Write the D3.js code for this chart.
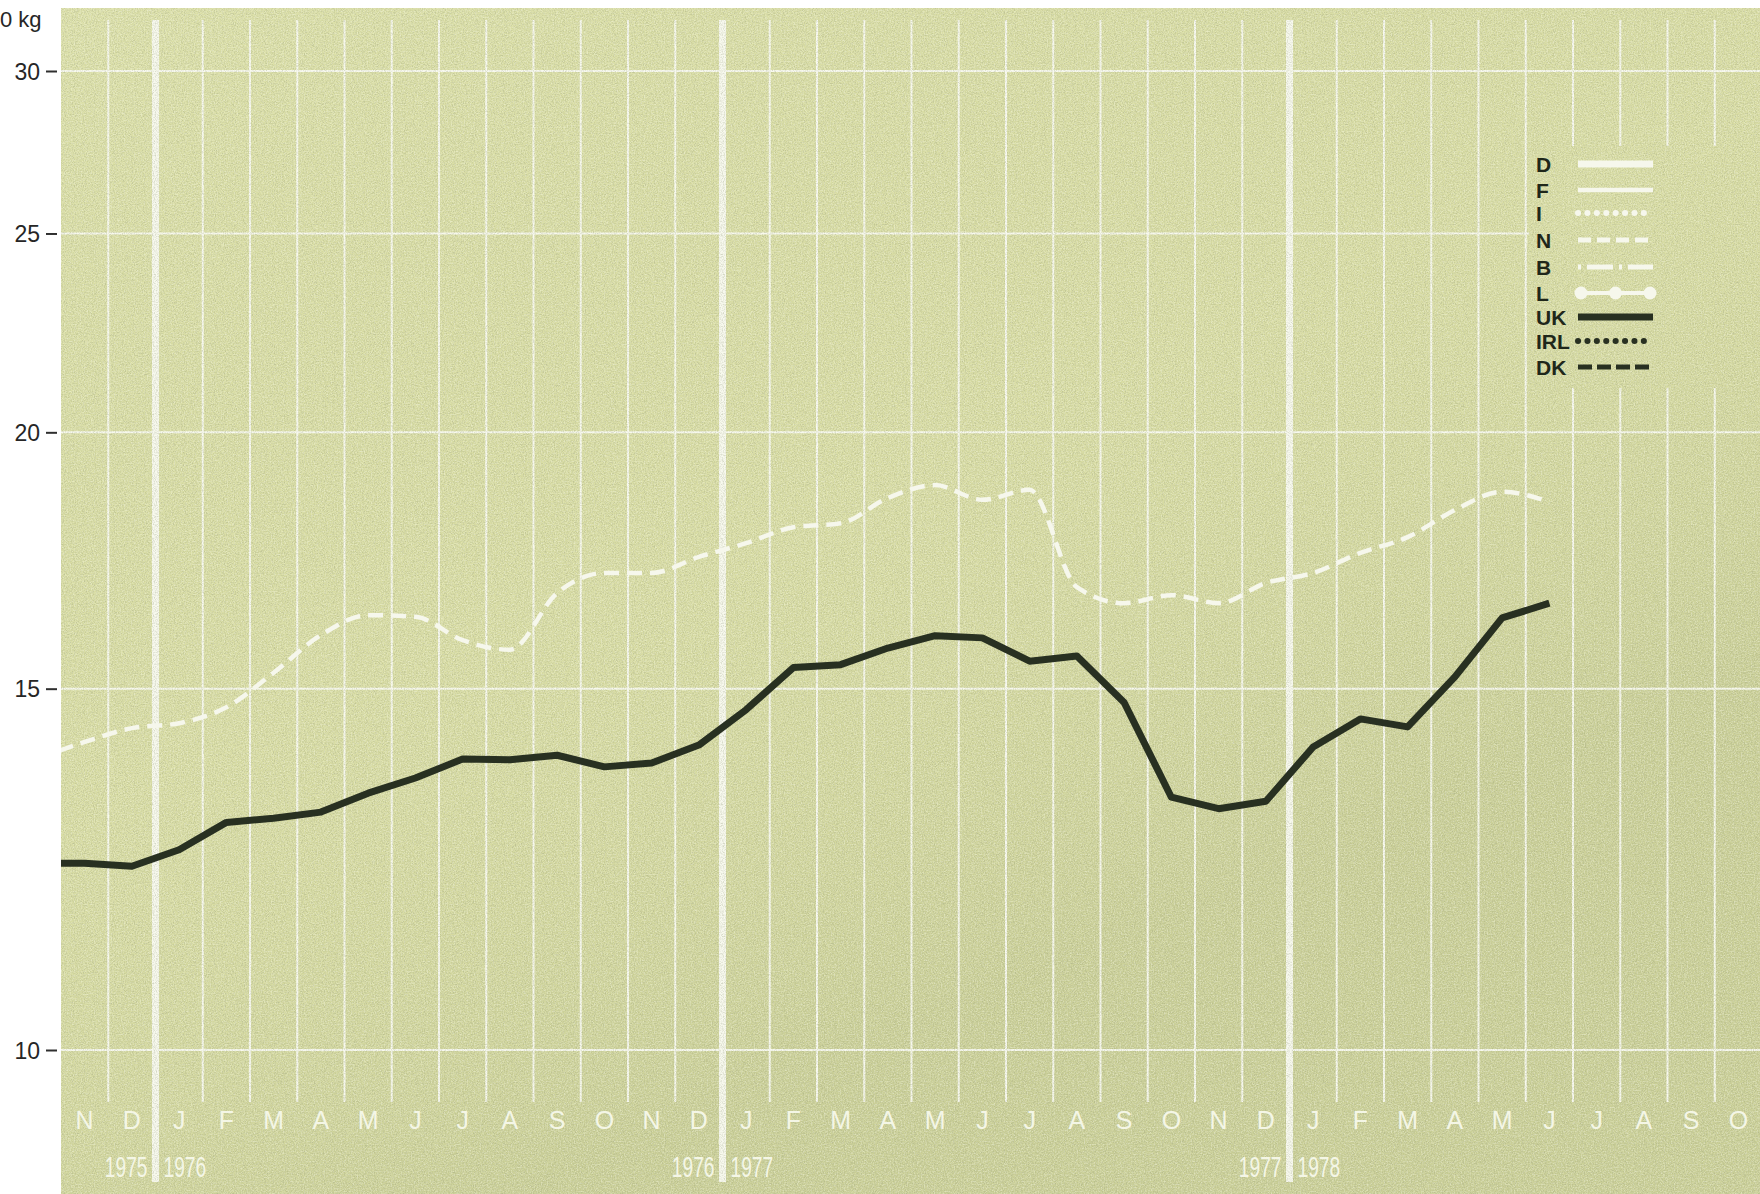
<!DOCTYPE html>
<html>
<head>
<meta charset="utf-8">
<script src="https://cdn.jsdelivr.net/npm/d3@7"></script>
<style>
  html, body { margin: 0; padding: 0; background: #ffffff; }
  svg { display: block; }
</style>
</head>
<body>
<script>
// ---------- DATA ----------
// visible month columns, Nov 1975 .. Oct 1978
const monthLabels = ["N","D","J","F","M","A","M","J","J","A","S","O","N","D",
  "J","F","M","A","M","J","J","A","S","O","N","D",
  "J","F","M","A","M","J","J","A","S","O"];
const years = ["1975","1976","1977","1978"];
const yearBreaks = [2, 14, 26];           // month index where a new year starts
const yTicks = [10, 15, 20, 25, 30];
const unitLabel = "0 kg";

// series values, Oct 1975 (index -1, just off the left edge) .. Jun 1978 (index 31)
const seriesStart = -1;
const ukValues = [12.33, 12.33, 12.29, 12.52, 12.91, 12.97, 13.06, 13.34, 13.57, 13.86, 13.85,
  13.92, 13.74, 13.80, 14.08, 14.65, 15.36, 15.41, 15.70, 15.92, 15.88, 15.47, 15.56,
  14.77, 13.28, 13.11, 13.22, 14.05, 14.50, 14.37, 15.20, 16.24, 16.51];
const nValues = [13.86, 14.13, 14.35, 14.43, 14.69, 15.27, 15.93, 16.29, 16.26, 15.84, 15.67,
  16.70, 17.08, 17.08, 17.39, 17.66, 17.98, 18.06, 18.58, 18.85, 18.54, 18.75, 16.81,
  16.51, 16.66, 16.51, 16.89, 17.08, 17.47, 17.78, 18.33, 18.71, 18.50];

const legendLabels = ["D","F","I","N","B","L","UK","IRL","DK"];

// ---------- LAYOUT ----------
const W = 1760, H = 1194;
const plot = { left: 61, top: 8, right: 1760, bottom: 1194 };
const FONT = "'Liberation Sans', Arial, Helvetica, sans-serif";
const BG = "#d9dda4";
const GRID = "#f7f8ee";
const DARK = "#283021";

const x = d3.scaleLinear().domain([0, 36]).range([61, 1762]);
const xc = i => x(i + 0.5);
const y = d3.scaleLog().domain([10, 30]).range([1050, 71]);

const svg = d3.select("body").append("svg")
  .attr("width", W).attr("height", H)
  .attr("viewBox", `0 0 ${W} ${H}`);

const defs = svg.append("defs");
defs.append("clipPath").attr("id", "plotClip")
  .append("rect").attr("x", plot.left).attr("y", plot.top)
  .attr("width", plot.right - plot.left).attr("height", plot.bottom - plot.top);

const fDark = defs.append("filter").attr("id", "grainDark")
  .attr("x", 0).attr("y", 0).attr("width", "100%").attr("height", "100%");
fDark.append("feTurbulence").attr("type", "fractalNoise").attr("baseFrequency", 0.9)
  .attr("numOctaves", 2).attr("seed", 4);
fDark.append("feColorMatrix").attr("type", "matrix")
  .attr("values", "0 0 0 0 0.30  0 0 0 0 0.33  0 0 0 0 0.20  2.6 0 0 0 -1.05");

const fLight = defs.append("filter").attr("id", "grainLight")
  .attr("x", 0).attr("y", 0).attr("width", "100%").attr("height", "100%");
fLight.append("feTurbulence").attr("type", "fractalNoise").attr("baseFrequency", 0.7)
  .attr("numOctaves", 2).attr("seed", 11);
fLight.append("feColorMatrix").attr("type", "matrix")
  .attr("values", "0 0 0 0 0.97  0 0 0 0 0.99  0 0 0 0 0.85  2.6 0 0 0 -1.1");

const grad = defs.append("linearGradient").attr("id", "shade")
  .attr("gradientUnits", "userSpaceOnUse")
  .attr("x1", 0).attr("y1", 0).attr("x2", 500).attr("y2", 1194);
grad.append("stop").attr("offset", "0%").attr("stop-color", "#eef2c2").attr("stop-opacity", 0.2);
grad.append("stop").attr("offset", "60%").attr("stop-color", "#c9ce94").attr("stop-opacity", 0.0);
grad.append("stop").attr("offset", "100%").attr("stop-color", "#aab17a").attr("stop-opacity", 0.3);

function bgRect(g, x0, y0, w, h) {
  g.append("rect").attr("x", x0).attr("y", y0).attr("width", w).attr("height", h).attr("fill", BG);
  g.append("rect").attr("x", x0).attr("y", y0).attr("width", w).attr("height", h).attr("fill", "url(#shade)");
}

// ---------- BACKGROUND ----------
bgRect(svg, plot.left, plot.top, plot.right - plot.left, plot.bottom - plot.top);

// ---------- GRID ----------
const grid = svg.append("g").attr("clip-path", "url(#plotClip)");
grid.selectAll("line.h").data(yTicks).join("line").attr("class", "h")
  .attr("x1", plot.left).attr("x2", plot.right)
  .attr("y1", d => y(d)).attr("y2", d => y(d))
  .attr("stroke", GRID).attr("stroke-width", 2);
const bounds = d3.range(1, 36).filter(b => !yearBreaks.includes(b));
grid.selectAll("line.v").data(bounds).join("line").attr("class", "v")
  .attr("x1", d => x(d)).attr("x2", d => x(d))
  .attr("y1", 20).attr("y2", 1102)
  .attr("stroke", GRID).attr("stroke-width", 2);
grid.selectAll("line.yr").data(yearBreaks).join("line").attr("class", "yr")
  .attr("x1", d => x(d)).attr("x2", d => x(d))
  .attr("y1", 20).attr("y2", 1182)
  .attr("stroke", GRID).attr("stroke-width", 7);

// legend panel: grid interrupted behind legend
bgRect(svg, 1529, 146, 1760 - 1529, 242);

// grain
svg.append("rect").attr("x", plot.left).attr("y", plot.top)
  .attr("width", plot.right - plot.left).attr("height", plot.bottom - plot.top)
  .attr("filter", "url(#grainDark)").attr("opacity", 0.35);
svg.append("rect").attr("x", plot.left).attr("y", plot.top)
  .attr("width", plot.right - plot.left).attr("height", plot.bottom - plot.top)
  .attr("filter", "url(#grainLight)").attr("opacity", 0.4);

// ---------- Y AXIS ----------
const yAxis = d3.axisLeft(y).tickValues(yTicks).tickSize(11).tickPadding(6)
  .tickFormat(d3.format("d"));
const ya = svg.append("g").attr("transform", "translate(57,0)").call(yAxis);
ya.select(".domain").remove();
ya.selectAll(".tick line").attr("stroke", "#2f2f2f").attr("stroke-width", 2);
ya.selectAll(".tick text").attr("font-family", FONT).attr("font-size", 23)
  .attr("fill", "#262626").attr("dy", "0.36em");
svg.append("text").attr("x", 0).attr("y", 27).text(unitLabel)
  .attr("font-family", FONT).attr("font-size", 22).attr("fill", "#262626");

// ---------- SERIES ----------
const series = svg.append("g").attr("clip-path", "url(#plotClip)");
const nLine = d3.line().x((d, i) => xc(i + seriesStart)).y(d => y(d)).curve(d3.curveMonotoneX);
const ukLine = d3.line().x((d, i) => xc(i + seriesStart)).y(d => y(d));
series.append("path").attr("d", nLine(nValues)).attr("fill", "none")
  .attr("stroke", "#f6f7ec").attr("stroke-width", 4.5).attr("stroke-dasharray", "15 8");
series.append("path").attr("d", ukLine(ukValues)).attr("fill", "none")
  .attr("stroke", DARK).attr("stroke-width", 7).attr("stroke-linejoin", "round");

// ---------- MONTH / YEAR LABELS ----------
svg.append("g").selectAll("text").data(monthLabels).join("text")
  .attr("x", (d, i) => xc(i)).attr("y", 1129).attr("text-anchor", "middle")
  .attr("font-family", FONT).attr("font-size", 25).attr("fill", "#f4f6e6")
  .text(d => d);
const yearG = svg.append("g");
yearBreaks.forEach((b, k) => {
  yearG.append("g").attr("transform", `translate(${x(b) - 8},1177) scale(0.64,1)`)
    .append("text").attr("text-anchor", "end")
    .attr("font-family", FONT).attr("font-size", 30).attr("fill", "#f4f6e6").text(years[k]);
  yearG.append("g").attr("transform", `translate(${x(b) + 8},1177) scale(0.64,1)`)
    .append("text").attr("text-anchor", "start")
    .attr("font-family", FONT).attr("font-size", 30).attr("fill", "#f4f6e6").text(years[k + 1]);
});

// ---------- LEGEND ----------
const legendRowY = [164, 190, 213, 240, 267, 293, 317, 341, 367];
const lx0 = 1578, lx1 = 1653;
const legendStyles = [
  { stroke: "#f6f7ec", w: 7 },
  { stroke: "#f6f7ec", w: 4.5 },
  { stroke: "#f6f7ec", w: 6, dash: "0.1 9.3", cap: "round" },
  { stroke: "#f6f7ec", w: 5, dash: "13 6" },
  { stroke: "#f6f7ec", w: 5, dash: "3 6 26 6" },
  { stroke: "#f6f7ec", w: 4, dots: true },
  { stroke: DARK, w: 7 },
  { stroke: DARK, w: 6, dash: "0.1 9.3", cap: "round" },
  { stroke: DARK, w: 5, dash: "14 5" }
];
const lg = svg.append("g");
legendLabels.forEach((lab, i) => {
  const yy = legendRowY[i];
  lg.append("text").attr("x", 1536).attr("y", yy + 8).text(lab)
    .attr("font-family", FONT).attr("font-size", 21).attr("font-weight", "bold")
    .attr("fill", "#1f271a");
  const s = legendStyles[i];
  const ln = lg.append("line").attr("x1", lx0).attr("x2", lx1).attr("y1", yy).attr("y2", yy)
    .attr("stroke", s.stroke).attr("stroke-width", s.w);
  if (s.dash) ln.attr("stroke-dasharray", s.dash);
  if (s.cap) ln.attr("stroke-linecap", s.cap);
  if (s.dots) {
    [lx0 + 3, (lx0 + lx1) / 2, lx1 - 3].forEach(cx => {
      lg.append("circle").attr("cx", cx).attr("cy", yy).attr("r", 6.5).attr("fill", s.stroke);
    });
  }
});
</script>
</body>
</html>
